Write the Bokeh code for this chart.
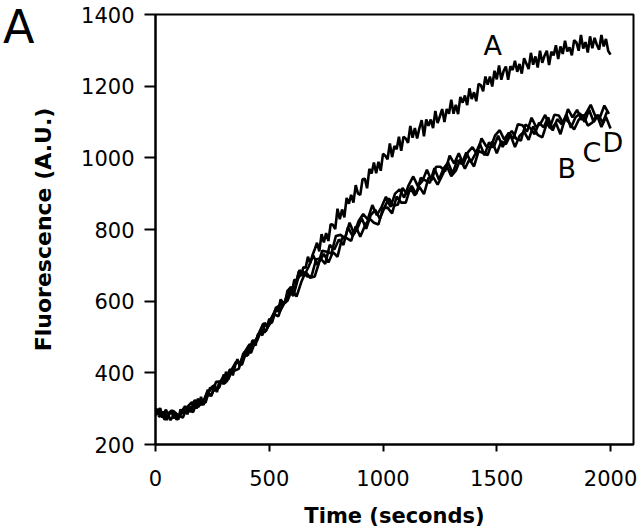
from bokeh.plotting import figure
from bokeh.models import Range1d, FixedTicker, Label, Div
from bokeh.layouts import column
from bokeh.embed import file_html
from bokeh.resources import INLINE

# sample times (seconds)
time_A = list(range(0, 2001, 10))
time_B = list(range(0, 2001, 20))
time_C = list(range(6, 2001, 20))
time_D = list(range(13, 2001, 20))

trace_A = [302, 282, 302, 275, 287, 268, 289, 294, 273, 285,
           269, 298, 286, 308, 284, 306, 296, 322, 310, 305,
           333, 310, 334, 353, 335, 344, 367, 346, 375, 376,
           368, 403, 388, 410, 393, 420, 438, 419, 433, 459,
           446, 475, 463, 485, 476, 508, 510, 505, 540, 528,
           551, 539, 564, 583, 574, 605, 596, 598, 629, 636,
           625, 660, 657, 683, 670, 695, 693, 724, 706, 728,
           745, 763, 739, 787, 764, 790, 768, 815, 813, 801,
           858, 829, 856, 834, 888, 872, 897, 875, 924, 900,
           897, 940, 942, 915, 969, 956, 987, 957, 989, 964,
           1011, 1006, 996, 1040, 1002, 1033, 1024, 1059, 1020, 1059,
           1054, 1042, 1089, 1056, 1083, 1054, 1083, 1105, 1060, 1107,
           1089, 1107, 1083, 1131, 1097, 1116, 1136, 1100, 1136, 1123,
           1162, 1123, 1148, 1122, 1170, 1154, 1174, 1147, 1194, 1164,
           1183, 1158, 1206, 1203, 1186, 1227, 1204, 1227, 1199, 1243,
           1219, 1258, 1218, 1242, 1255, 1218, 1256, 1245, 1271, 1240,
           1262, 1235, 1278, 1263, 1248, 1293, 1260, 1283, 1252, 1299,
           1265, 1285, 1299, 1259, 1296, 1286, 1314, 1276, 1311, 1290,
           1327, 1297, 1308, 1286, 1328, 1322, 1299, 1343, 1305, 1323,
           1294, 1339, 1306, 1335, 1315, 1302, 1343, 1311, 1332, 1298,
           1288]

trace_B = [282, 300, 269, 287, 293, 281, 275, 305, 318, 301,
           324, 317, 359, 350, 359, 395, 381, 415, 433, 422,
           461, 456, 491, 516, 513, 534, 564, 558, 595, 601,
           632, 613, 652, 682, 665, 669, 710, 732, 708, 737,
           724, 776, 776, 768, 809, 780, 810, 831, 819, 814,
           860, 861, 845, 892, 875, 875, 916, 895, 919, 899,
           944, 947, 925, 951, 978, 949, 964, 996, 970, 996,
           976, 1019, 1013, 1008, 1046, 1013, 1046, 1038, 1064, 1030,
           1061, 1073, 1050, 1088, 1064, 1057, 1096, 1081, 1097, 1066,
           1110, 1097, 1079, 1106, 1120, 1090, 1098, 1120, 1086, 1114,
           1082]

trace_C = [300, 277, 297, 268, 288, 276, 304, 294, 291, 327,
           316, 343, 336, 375, 376, 371, 409, 406, 411, 454,
           449, 490, 489, 521, 517, 549, 574, 571, 594, 629,
           615, 662, 685, 669, 670, 717, 719, 704, 757, 744,
           772, 757, 806, 782, 801, 832, 802, 840, 855, 830,
           861, 887, 866, 870, 916, 898, 922, 899, 944, 937,
           930, 971, 939, 970, 987, 956, 993, 983, 1015, 988,
           1011, 1039, 1007, 1043, 1029, 1062, 1030, 1059, 1075, 1053,
           1048, 1093, 1084, 1066, 1098, 1085, 1113, 1076, 1108, 1093,
           1121, 1084, 1113, 1124, 1100, 1134, 1100, 1120, 1098, 1131]

trace_D = [276, 291, 277, 296, 269, 292, 304, 292, 324, 310,
           314, 345, 364, 354, 385, 375, 405, 430, 428, 459,
           479, 476, 508, 537, 532, 542, 583, 592, 597, 639,
           637, 687, 671, 696, 728, 700, 741, 738, 733, 782,
           785, 776, 819, 788, 824, 843, 828, 868, 840, 862,
           891, 863, 900, 912, 889, 924, 948, 921, 935, 967,
           937, 975, 975, 962, 1006, 984, 1013, 982, 1015, 1030,
           1010, 1054, 1033, 1028, 1063, 1077, 1051, 1070, 1053, 1094,
           1091, 1073, 1112, 1086, 1096, 1120, 1083, 1120, 1118, 1095,
           1136, 1113, 1134, 1106, 1125, 1148, 1117, 1112, 1146, 1123]

x_ticks = [0, 500, 1000, 1500, 2000]
y_ticks = [200, 400, 600, 800, 1000, 1200, 1400]

p = figure(width=638, height=530, output_backend="svg", toolbar_location=None,
           x_range=Range1d(0, 2101), y_range=Range1d(200, 1400),
           min_border_left=155, min_border_right=5, min_border_top=14,
           min_border_bottom=86)

for tx, series in ((time_A, trace_A), (time_B, trace_B),
                   (time_C, trace_C), (time_D, trace_D)):
    p.line(tx, series, line_color="black", line_width=2.6)

p.xgrid.visible = False
p.ygrid.visible = False
p.background_fill_color = "white"
p.border_fill_color = "white"
p.outline_line_color = "black"
p.outline_line_width = 2

for ax in (p.xaxis[0], p.yaxis[0]):
    ax.axis_line_width = 2
    ax.axis_line_color = "black"
    ax.major_tick_line_width = 2
    ax.major_tick_line_color = "black"
    ax.major_tick_in = 0
    ax.minor_tick_line_color = None
    ax.major_label_text_font = "DejaVu Sans"
    ax.major_label_text_font_size = "21px"
    ax.major_label_text_color = "black"
    ax.axis_label_text_font = "DejaVu Sans"
    ax.axis_label_text_font_style = "bold"
    ax.axis_label_text_color = "black"

p.xaxis[0].ticker = FixedTicker(ticks=x_ticks)
p.yaxis[0].ticker = FixedTicker(ticks=y_ticks)
p.xaxis[0].major_tick_out = 7
p.yaxis[0].major_tick_out = 11
p.xaxis[0].major_label_standoff = 18
p.yaxis[0].major_label_standoff = 10
p.xaxis[0].axis_label = "Time (seconds)"
p.yaxis[0].axis_label = "Fluorescence (A.U.)"
p.xaxis[0].axis_label_text_font_size = "21px"
p.yaxis[0].axis_label_text_font_size = "22px"
p.xaxis[0].axis_label_standoff = 15
p.yaxis[0].axis_label_standoff = 22

# curve labels
for name, lx, ly in (("A", 1442, 1314), ("B", 1767, 970),
                     ("C", 1877, 1015), ("D", 1965, 1043)):
    p.add_layout(Label(x=lx, y=ly, text=name, text_font="DejaVu Sans",
                       text_font_size="27px", text_color="black",
                       text_align="left", text_baseline="alphabetic"))

# panel letter, overlaid at the page's top-left corner
panel = Div(text="A", styles={"position": "absolute", "left": "3px",
                              "top": "0px", "font-family": "DejaVu Sans",
                              "font-size": "46px", "color": "black",
                              "line-height": "normal", "margin": "0",
                              "padding": "0", "z-index": "10"})

layout = column(p, panel)
open("out.html", "w").write(file_html(layout, INLINE))
